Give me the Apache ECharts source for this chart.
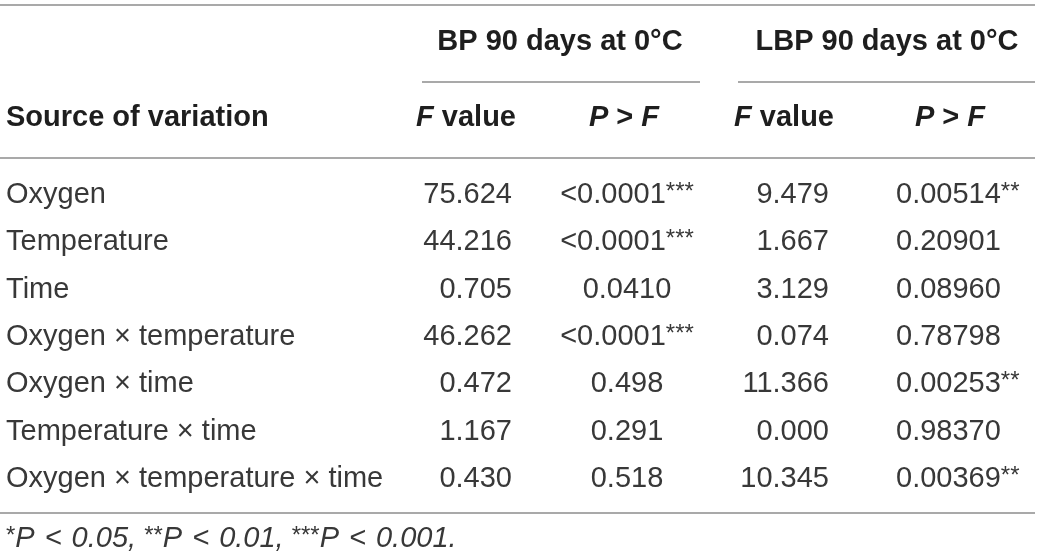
<!DOCTYPE html>
<html>
<head>
<meta charset="utf-8">
<title>ANOVA table</title>
<script src="https://cdn.jsdelivr.net/npm/echarts@6/dist/echarts.min.js"></script>
<style>
  html, body { margin: 0; padding: 0; background: #fff; }
  #chart { width: 1040px; height: 560px; }
</style>
</head>
<body>
<div id="chart"></div>
<script>
// table content
var GROUP_HEADERS = ['BP 90 days at 0°C', 'LBP 90 days at 0°C'];
var COLUMN_HEADERS = ['Source of variation', '{i|F} value', '{i|P} > {i|F}', '{i|F} value', '{i|P} > {i|F}'];
var ROW_LABELS = ['Oxygen', 'Temperature', 'Time', 'Oxygen × temperature', 'Oxygen × time',
    'Temperature × time', 'Oxygen × temperature × time'];
var BP_F = [75.624, 44.216, 0.705, 46.262, 0.472, 1.167, 0.430];
var BP_P = ['<0.0001', '<0.0001', '0.0410', '<0.0001', '0.498', '0.291', '0.518'];
var BP_SIG = ['***', '***', '', '***', '', '', ''];
var LBP_F = [9.479, 1.667, 3.129, 0.074, 11.366, 0.000, 10.345];
var LBP_P = ['0.00514', '0.20901', '0.08960', '0.78798', '0.00253', '0.98370', '0.00369'];
var LBP_SIG = ['**', '', '', '', '**', '', '**'];
var FOOTNOTE = '{s|*}{i|P}{l|<}{i|0.05, }{s|**}{i|P}{l|<}{i|0.01, }{s|***}{i|P}{l|<}{i|0.001.}';

// layout (pixels)
var FONT = '"Liberation Sans", Arial, Helvetica, sans-serif';
var FS = 29;
var STAR_FS = 24;
var TEXT_COLOR = '#1e1e1e';
var BODY_COLOR = '#383838';
var RULE_COLOR = '#8c8c8c';
var COL = { label: 6, bpF: 512, bpP: 627, lbpF: 829, lbpP: 896 };
var HEAD = { bpF: 516, bpP: 624, lbpF: 834, lbpP: 950 };

var richBody = {
    n: { fontSize: FS, fontFamily: FONT, fill: BODY_COLOR, lineHeight: 30 },
    s: { fontSize: STAR_FS, fontFamily: FONT, fill: BODY_COLOR, lineHeight: 22, verticalAlign: 'top' }
};
var richHead = {
    b: { fontSize: FS, fontFamily: FONT, fontWeight: 'bold', fill: TEXT_COLOR },
    i: { fontSize: FS, fontFamily: FONT, fontWeight: 'bold', fontStyle: 'italic', fill: TEXT_COLOR }
};

function cellText(x, y, str, align) {
    return {
        type: 'text',
        x: x,
        y: y,
        style: {
            text: str,
            align: align,
            verticalAlign: 'middle',
            fontSize: FS,
            fontFamily: FONT,
            fill: BODY_COLOR,
            rich: richBody
        }
    };
}

function withSig(v, sig) {
    return '{n|' + v + '}' + (sig ? '{s|' + sig + '}' : '');
}

function renderRow(params, api) {
    var i = api.value(1);
    var y = api.coord([0, i])[1];
    return {
        type: 'group',
        children: [
            cellText(COL.label, y, '{n|' + ROW_LABELS[i] + '}', 'left'),
            cellText(COL.bpF, y, '{n|' + BP_F[i].toFixed(3) + '}', 'right'),
            cellText(COL.bpP, y, withSig(BP_P[i], BP_SIG[i]), 'center'),
            cellText(COL.lbpF, y, '{n|' + LBP_F[i].toFixed(3) + '}', 'right'),
            cellText(COL.lbpP, y, withSig(LBP_P[i], LBP_SIG[i]), 'left')
        ]
    };
}

function rule(x1, x2, y) {
    return {
        type: 'line',
        shape: { x1: x1, y1: y, x2: x2, y2: y },
        style: { stroke: RULE_COLOR, lineWidth: 1.5 },
        silent: true
    };
}

function headText(x, y, str, align, rich) {
    return {
        type: 'text',
        x: x,
        y: y,
        style: {
            text: str,
            align: align,
            verticalAlign: 'middle',
            fontSize: FS,
            fontFamily: FONT,
            fontWeight: 'bold',
            fill: TEXT_COLOR,
            rich: rich
        },
        silent: true
    };
}

var chart = echarts.init(document.getElementById('chart'), null, { renderer: 'canvas' });

var option = {
    backgroundColor: '#ffffff',
    animation: false,
    grid: { left: 0, right: 0, top: 171.5, height: 331.3, containLabel: false },
    xAxis: { type: 'value', min: 0, max: 1040, show: false },
    yAxis: { type: 'category', data: ROW_LABELS, inverse: true, show: false },
    graphic: [
        rule(0, 1035, 5),
        headText(560, 42, '{b|' + GROUP_HEADERS[0] + '}', 'center', richHead),
        headText(887, 42, '{b|' + GROUP_HEADERS[1] + '}', 'center', richHead),
        rule(422, 700, 82),
        rule(738, 1035, 82),
        headText(6, 118, '{b|' + COLUMN_HEADERS[0] + '}', 'left', richHead),
        headText(HEAD.bpF, 118, COLUMN_HEADERS[1].replace(' value', '{b| value}'), 'right', richHead),
        headText(HEAD.bpP, 118, COLUMN_HEADERS[2].replace(' > ', '{b| > }'), 'center', richHead),
        headText(HEAD.lbpF, 118, COLUMN_HEADERS[3].replace(' value', '{b| value}'), 'right', richHead),
        headText(HEAD.lbpP, 118, COLUMN_HEADERS[4].replace(' > ', '{b| > }'), 'center', richHead),
        rule(0, 1035, 158),
        rule(0, 1035, 513),
        {
            type: 'text',
            x: 6,
            y: 539,
            silent: true,
            style: {
                text: FOOTNOTE,
                align: 'left',
                verticalAlign: 'middle',
                rich: {
                    i: { fontSize: FS, fontFamily: FONT, fontStyle: 'italic', fill: BODY_COLOR, lineHeight: 30 },
                    l: { fontSize: FS, fontFamily: FONT, fontStyle: 'italic', fill: BODY_COLOR, lineHeight: 30, padding: [0, 10, 0, 10] },
                    s: { fontSize: STAR_FS, fontFamily: FONT, fill: BODY_COLOR, lineHeight: 22, verticalAlign: 'top' }
                }
            }
        }
    ],
    series: [{
        type: 'custom',
        coordinateSystem: 'cartesian2d',
        renderItem: renderRow,
        encode: { x: 0, y: 1 },
        data: ROW_LABELS.map(function (name, i) { return [0, i]; }),
        silent: true
    }]
};

chart.setOption(option);
</script>
</body>
</html>
